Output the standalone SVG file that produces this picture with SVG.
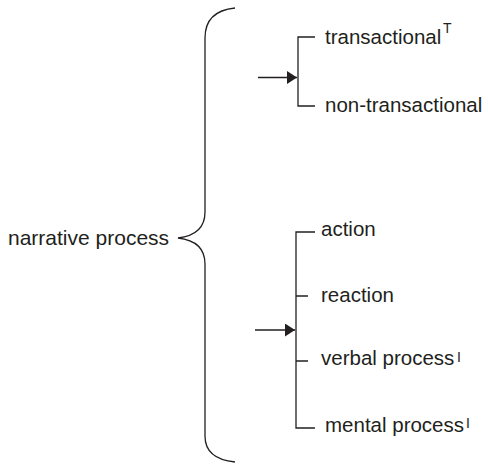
<svg xmlns="http://www.w3.org/2000/svg" width="488" height="467" viewBox="0 0 488 467">
<style>
.t{font-family:"Liberation Sans",Arial,sans-serif;font-size:20.5px;fill:#231f20}
.s{font-family:"Liberation Sans",Arial,sans-serif;font-size:14px;fill:#231f20}
.l{fill:none;stroke:#231f20;stroke-width:1.3}
</style>
<defs>
<marker id="ah" markerWidth="10" markerHeight="13" refX="10" refY="6.5" orient="auto" markerUnits="userSpaceOnUse">
<path d="M0,0 L10,6.5 L0,13 Z" fill="#231f20"/>
</marker>
</defs>
<rect width="488" height="467" fill="#fff"/>
<g id="connectors">
<path class="l" d="M235 8 C215 10 205 20 205 38 L205 212 C205 228 195 236 178 238 C195 240 205 248 205 264 L205 436 C205 452 215 460 235 462"/>
<path class="l" d="M258 77.5 L297 77.5" marker-end="url(#ah)"/>
<path class="l" d="M315 37 L298 37 L298 106 L315 106"/>
<path class="l" d="M255 330 L295 330" marker-end="url(#ah)"/>
<path class="l" d="M315 232 L296 232 L296 428 L315 428"/>
<path class="l" d="M296 296 L308 296 M296 361 L308 361"/>
</g>
<g id="narrative"><text class="t" x="8" y="245" style="font-size:21px">narrative process</text></g>
<g id="transactional"><text class="t" x="325" y="44">transactional</text><text class="s" x="443" y="33">T</text></g>
<g id="non-transactional"><text class="t" x="325" y="112">non-transactional</text></g>
<g id="action"><text class="t" x="321" y="236">action</text></g>
<g id="reaction"><text class="t" x="321" y="302">reaction</text></g>
<g id="verbal"><text class="t" x="321" y="365">verbal process</text><text class="s" x="457" y="362">I</text></g>
<g id="mental"><text class="t" x="325" y="432">mental process</text><text class="s" x="466" y="428">I</text></g>
</svg>
